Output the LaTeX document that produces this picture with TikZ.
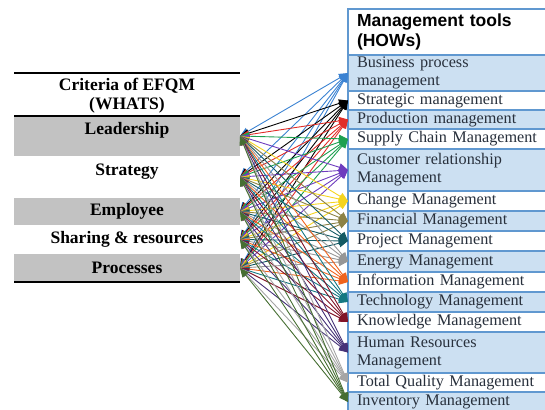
\documentclass[tikz,border=0pt]{standalone}
\usepackage{fontspec}
\setmainfont{Liberation Serif}
\newfontfamily\headfont{Liberation Sans}
\usetikzlibrary{positioning,arrows.meta}

\definecolor{bandgray}{RGB}{194,194,194}
\definecolor{rowblue}{RGB}{204,224,242}
\definecolor{lineblue}{RGB}{96,152,208}
\definecolor{rowtext}{RGB}{40,48,60}
% one colour per management tool
\definecolor{cbpm}{RGB}{58,130,210}
\definecolor{cpm}{RGB}{225,45,40}
\definecolor{cscm}{RGB}{30,160,80}
\definecolor{ccrm}{RGB}{110,60,190}
\definecolor{cchm}{RGB}{245,212,30}
\definecolor{cfm}{RGB}{140,130,70}
\definecolor{cprj}{RGB}{20,90,100}
\definecolor{cem}{RGB}{150,150,150}
\definecolor{cim}{RGB}{240,100,30}
\definecolor{ctm}{RGB}{20,120,130}
\definecolor{ckm}{RGB}{130,20,40}
\definecolor{chrm}{RGB}{70,50,120}
\definecolor{ctqm}{RGB}{165,165,165}
\definecolor{cinvm}{RGB}{70,110,50}

\begin{document}
\begin{tikzpicture}[x=1pt, y=-1pt, node distance=0pt,
  crit/.style = {minimum width=226pt, inner sep=0pt, outer sep=0pt, align=center,
                 font=\fontsize{17.5}{19}\selectfont\bfseries},
  tool/.style = {draw=lineblue, line width=1.2pt, fill=rowblue, text=rowtext,
                 text width=183pt, inner xsep=9pt, inner ysep=1pt, outer sep=0pt,
                 align=left, font=\fontsize{16.2}{18}\selectfont},
  toolw/.style = {tool, fill=white},
  rule/.style = {line width=2pt},
  link/.style = {line width=0.9pt, <->, >={Triangle[length=9pt,width=8pt]}}]
\useasboundingbox (0,0) rectangle (545,409);

% criteria (left table)
\node[crit, minimum height=43pt, anchor=north, text depth=2pt] (head) at (127,73) {Criteria of EFQM\\(WHATS)};
\node[crit, fill=bandgray, minimum height=40pt] (lead) [below=of head] {Leadership\\[-10pt]\strut};
\node[crit, minimum height=42pt] (strategy) [below=of lead] {Strategy\\[-10pt]\strut};
\node[crit, fill=bandgray, minimum height=27pt] (employee) [below=of strategy] {Employee};
\node[crit, minimum height=29pt] (sharing) [below=of employee] {Sharing \& resources};
\node[crit, fill=bandgray, minimum height=28pt] (processes) [below=of sharing] {Processes};
\draw[rule] (head.north west) -- (head.north east);
\draw[rule] (head.south west) -- (head.south east);
\draw[rule] (processes.south west) -- (processes.south east);

% management tools (right table)
\node[toolw, text=black, minimum height=46pt, anchor=north west,
      font=\fontsize{17.5}{19.5}\selectfont\headfont\bfseries] (tools) at (348,9) {Management tools\\(HOWs)};
\node[tool, minimum height=36pt] (bpm) [below=of tools] {Business process\\management};
\node[toolw, minimum height=19pt] (sm) [below=of bpm] {Strategic management};
\node[tool, minimum height=19pt] (pm) [below=of sm] {Production management};
\node[toolw, minimum height=20pt] (scm) [below=of pm] {Supply Chain Management};
\node[tool, minimum height=42pt] (crm) [below=of scm] {Customer relationship\\Management};
\node[toolw, minimum height=20pt] (chm) [below=of crm] {Change Management};
\node[tool, minimum height=20pt] (fm) [below=of chm] {Financial Management};
\node[toolw, minimum height=20pt] (prj) [below=of fm] {Project Management};
\node[tool, minimum height=21pt] (em) [below=of prj] {Energy Management};
\node[toolw, minimum height=20pt] (im) [below=of em] {Information Management};
\node[tool, minimum height=20pt] (tm) [below=of im] {Technology Management};
\node[toolw, minimum height=20pt] (km) [below=of tm] {Knowledge Management};
\node[tool, minimum height=41pt] (hrm) [below=of km] {Human Resources\\Management};
\node[toolw, minimum height=19pt] (tqm) [below=of hrm] {Total Quality Management};
\node[tool, minimum height=20pt] (invm) [below=of tqm] {Inventory Management};

% every tool linked to every criterion
\foreach \t/\c in {bpm/cbpm, sm/black, pm/cpm, scm/cscm, crm/ccrm, chm/cchm, fm/cfm,
                   prj/cprj, em/cem, im/cim, tm/ctm, km/ckm, hrm/chrm, tqm/ctqm, invm/cinvm}
  \foreach \k in {lead, strategy, employee, sharing, processes}
    \draw[link, \c] (\t.west) -- (\k.east);
\end{tikzpicture}
\end{document}
